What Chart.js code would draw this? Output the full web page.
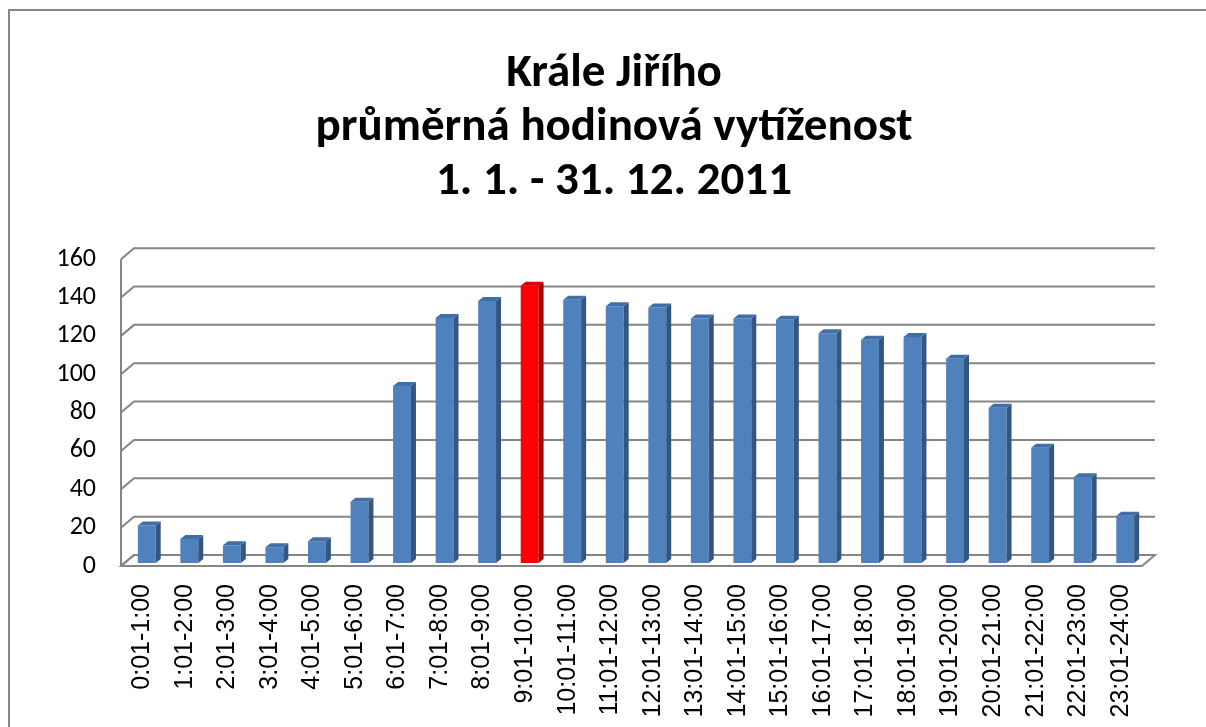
<!DOCTYPE html>
<html>
<head>
<meta charset="utf-8">
<script src="https://cdn.jsdelivr.net/npm/chart.js@4.4.0/dist/chart.umd.min.js"></script>
<style>
  html, body { margin: 0; padding: 0; background: #fff; }
  #wrap { width: 1206px; height: 727px; }
</style>
</head>
<body>
<div id="wrap"><canvas id="graf"></canvas></div>
<script>
// hodinové intervaly
const hodiny = [
    '0:01-1:00', '1:01-2:00', '2:01-3:00', '3:01-4:00', '4:01-5:00', '5:01-6:00',
    '6:01-7:00', '7:01-8:00', '8:01-9:00', '9:01-10:00', '10:01-11:00', '11:01-12:00',
    '12:01-13:00', '13:01-14:00', '14:01-15:00', '15:01-16:00', '16:01-17:00', '17:01-18:00',
    '18:01-19:00', '19:01-20:00', '20:01-21:00', '21:01-22:00', '22:01-23:00', '23:01-24:00'
];

// průměrná vytíženost
const vytizenost = [
    19.6, 12.5, 9.2, 8.2, 11.4, 32, 92.3, 127.8, 136.6, 144.6, 137.3, 133.9,
    133.2, 127.5, 127.5, 126.8, 119.8, 116.4, 117.8, 106.5, 80.9, 60.1, 44.7, 24.6
];

const osaY = [0, 20, 40, 60, 80, 100, 120, 140, 160];

const nadpis = ['Krále Jiřího', 'průměrná hodinová vytíženost', '1. 1. - 31. 12. 2011'];

const spicka = '9:01-10:00';

// barvy
const modra = { predek: '#4f81bd', bok: '#34557f', vrch: '#3f6ea8' };
const cervena = { predek: '#ff0000', bok: '#a80000', vrch: '#d80000' };

// hloubka 3D sceny
const hloubka = { dx: 13, dy: -11 };
const posunSloupcu = { dx: 4.5, dy: -3 };
const hloubkaSloupce = { dx: 5, dy: -4 };

const barvaSloupce = (i) => hodiny[i] === spicka ? cervena : modra;

const scena3d = {
    id: 'scena3d',
    beforeDraw(chart) {
        const ctx = chart.ctx;
        ctx.save();
        ctx.fillStyle = '#fff';
        ctx.fillRect(0, 0, chart.width, chart.height);
        // ramecek grafu
        ctx.strokeStyle = '#878787';
        ctx.lineWidth = 2;
        ctx.strokeRect(9, 10, 1400, 1000);
        ctx.restore();
    },
    beforeDatasetsDraw(chart) {
        const ctx = chart.ctx;
        const a = chart.chartArea;
        const y = chart.scales.y;
        ctx.save();
        ctx.strokeStyle = '#858585';
        ctx.lineWidth = 2;

        // podlaha
        ctx.beginPath();
        ctx.moveTo(a.left, a.bottom);
        ctx.lineTo(a.right, a.bottom);
        ctx.lineTo(a.right + hloubka.dx, a.bottom + hloubka.dy);
        ctx.lineTo(a.left + hloubka.dx, a.bottom + hloubka.dy);
        ctx.closePath();
        ctx.fillStyle = '#fff';
        ctx.fill();
        ctx.stroke();

        // mrizka na zadni stene
        osaY.forEach(v => {
            const py = y.getPixelForValue(v);
            ctx.beginPath();
            ctx.moveTo(a.left, py);
            ctx.lineTo(a.left + hloubka.dx, py + hloubka.dy);
            ctx.lineTo(a.right + hloubka.dx, py + hloubka.dy);
            ctx.stroke();
        });

        // leva stena
        ctx.beginPath();
        ctx.moveTo(a.left, y.getPixelForValue(160));
        ctx.lineTo(a.left, a.bottom);
        ctx.stroke();
        ctx.restore();

        ctx.save();
        ctx.translate(posunSloupcu.dx, posunSloupcu.dy);
    },
    afterDatasetsDraw(chart) {
        const ctx = chart.ctx;
        const meta = chart.getDatasetMeta(0);
        meta.data.forEach((bar, i) => {
            const b = barvaSloupce(i);
            const x0 = bar.x - bar.width / 2;
            const x1 = bar.x + bar.width / 2;
            const top = bar.y;
            const base = bar.base;
            // bok
            ctx.beginPath();
            ctx.moveTo(x1, top);
            ctx.lineTo(x1 + hloubkaSloupce.dx, top + hloubkaSloupce.dy);
            ctx.lineTo(x1 + hloubkaSloupce.dx, base + hloubkaSloupce.dy);
            ctx.lineTo(x1, base);
            ctx.closePath();
            ctx.fillStyle = b.bok;
            ctx.fill();
            // vrch
            ctx.beginPath();
            ctx.moveTo(x0, top);
            ctx.lineTo(x1, top);
            ctx.lineTo(x1 + hloubkaSloupce.dx, top + hloubkaSloupce.dy);
            ctx.lineTo(x0 + hloubkaSloupce.dx, top + hloubkaSloupce.dy);
            ctx.closePath();
            ctx.fillStyle = b.vrch;
            ctx.fill();
        });
        ctx.restore();
    }
};

new Chart(document.getElementById('graf'), {
    type: 'bar',
    data: {
        labels: hodiny,
        datasets: [{
            data: vytizenost,
            backgroundColor: hodiny.map((h, i) => barvaSloupce(i).predek),
            borderWidth: 0,
            barPercentage: 0.42,
            categoryPercentage: 1
        }]
    },
    options: {
        responsive: true,
        maintainAspectRatio: false,
        animation: false,
        layout: { padding: { left: 22, right: 0, top: 0, bottom: 0 } },
        plugins: {
            legend: { display: false },
            tooltip: { enabled: false },
            title: {
                display: true,
                text: nadpis,
                color: '#000',
                font: { family: 'Carlito, Lato, sans-serif', size: 47, weight: 'bold', lineHeight: 1.15 },
                padding: { top: 47, bottom: 50 }
            }
        },
        scales: {
            x: {
                grid: { display: false, drawTicks: false },
                border: { display: false },
                ticks: {
                    color: '#000',
                    maxRotation: 90,
                    minRotation: 90,
                    autoSkip: false,
                    padding: 18,
                    font: { family: '"Liberation Sans Narrow", "Liberation Sans", sans-serif', size: 25 }
                },
                afterFit(s) { s.height = 161; }
            },
            y: {
                min: 0,
                max: 160,
                grid: { display: false, drawTicks: false },
                border: { display: false },
                afterBuildTicks(s) { s.ticks = osaY.map(v => ({ value: v })); },
                ticks: {
                    color: '#000',
                    padding: 25,
                    font: { family: 'Carlito, Lato, sans-serif', size: 26 }
                },
                afterFit(s) { s.width = 99; }
            },
            // prazdny pravy okraj (misto pro hloubku sceny)
            okraj: {
                type: 'linear',
                position: 'right',
                display: true,
                grid: { display: false, drawTicks: false },
                border: { display: false },
                ticks: { display: false },
                afterFit(s) { s.width = 64; }
            }
        }
    },
    plugins: [scena3d]
});
</script>
</body>
</html>
